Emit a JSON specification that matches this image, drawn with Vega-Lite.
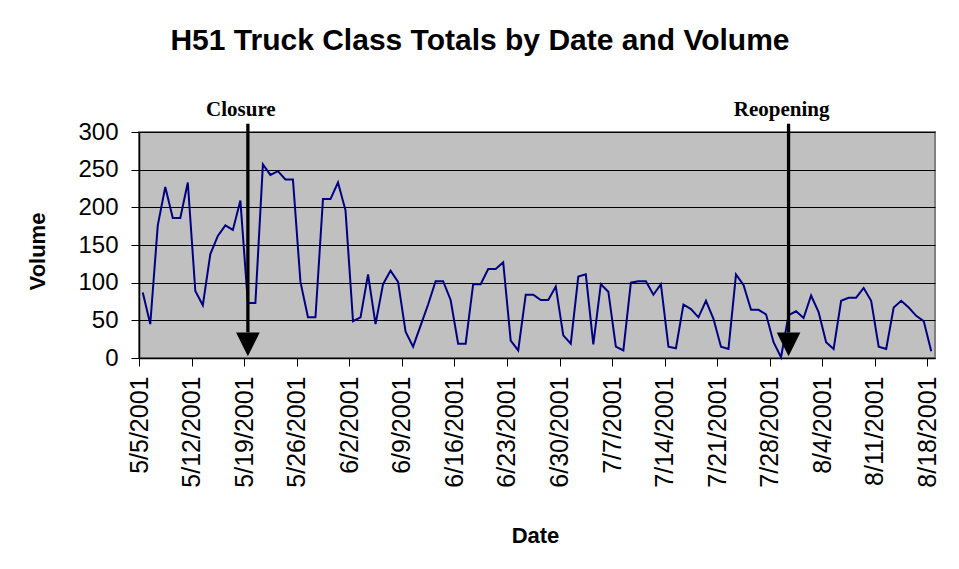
{
  "$schema": "https://vega.github.io/schema/vega-lite/v6.json",
  "width": 796,
  "height": 226,
  "autosize": {"type": "none"},
  "padding": {"left": 139, "top": 132, "right": 24, "bottom": 211},
  "background": "white",
  "title": {
    "text": "H51 Truck Class Totals by Date and Volume",
    "font": "Liberation Sans",
    "fontSize": 30,
    "fontWeight": "bold",
    "color": "#000000",
    "anchor": "middle",
    "dx": -57,
    "baseline": "alphabetic",
    "offset": 19
  },
  "config": {
    "view": {"fill": "#C0C0C0", "stroke": "#808080", "strokeWidth": 2},
    "axisY": {
      "labelFont": "Liberation Sans",
      "labelFontSize": 24,
      "labelColor": "#000000",
      "labelPadding": 13,
      "labelOverlap": false,
      "tickSize": 8,
      "tickColor": "#000000",
      "domainColor": "#000000",
      "domainWidth": 1.5,
      "grid": true,
      "gridColor": "#000000",
      "gridWidth": 1,
      "titleFont": "Liberation Sans",
      "titleFontSize": 22,
      "titleFontWeight": "bold",
      "titleColor": "#000000",
      "titleAngle": 270,
      "titleX": -102,
      "titleY": 119,
      "titleAlign": "center",
      "titleBaseline": "middle"
    }
  },
  "layer": [
    {
      "data": {"values": [
        {"date": "5/5/2001", "volume": 87}, {"date": "5/6/2001", "volume": 45}, {"date": "5/7/2001", "volume": 176}, {"date": "5/8/2001", "volume": 227},
        {"date": "5/9/2001", "volume": 186}, {"date": "5/10/2001", "volume": 186}, {"date": "5/11/2001", "volume": 233}, {"date": "5/12/2001", "volume": 89},
        {"date": "5/13/2001", "volume": 70}, {"date": "5/14/2001", "volume": 138}, {"date": "5/15/2001", "volume": 162}, {"date": "5/16/2001", "volume": 176},
        {"date": "5/17/2001", "volume": 170}, {"date": "5/18/2001", "volume": 209}, {"date": "5/19/2001", "volume": 73}, {"date": "5/20/2001", "volume": 73},
        {"date": "5/21/2001", "volume": 257}, {"date": "5/22/2001", "volume": 243}, {"date": "5/23/2001", "volume": 248}, {"date": "5/24/2001", "volume": 237},
        {"date": "5/25/2001", "volume": 237}, {"date": "5/26/2001", "volume": 101}, {"date": "5/27/2001", "volume": 54}, {"date": "5/28/2001", "volume": 54},
        {"date": "5/29/2001", "volume": 211}, {"date": "5/30/2001", "volume": 211}, {"date": "5/31/2001", "volume": 233}, {"date": "6/1/2001", "volume": 196},
        {"date": "6/2/2001", "volume": 49}, {"date": "6/3/2001", "volume": 54}, {"date": "6/4/2001", "volume": 111}, {"date": "6/5/2001", "volume": 45},
        {"date": "6/6/2001", "volume": 98}, {"date": "6/7/2001", "volume": 116}, {"date": "6/8/2001", "volume": 101}, {"date": "6/9/2001", "volume": 35},
        {"date": "6/10/2001", "volume": 15}, {"date": "6/11/2001", "volume": 43}, {"date": "6/12/2001", "volume": 71}, {"date": "6/13/2001", "volume": 102},
        {"date": "6/14/2001", "volume": 102}, {"date": "6/15/2001", "volume": 77}, {"date": "6/16/2001", "volume": 19}, {"date": "6/17/2001", "volume": 19},
        {"date": "6/18/2001", "volume": 98}, {"date": "6/19/2001", "volume": 98}, {"date": "6/20/2001", "volume": 118}, {"date": "6/21/2001", "volume": 118},
        {"date": "6/22/2001", "volume": 127}, {"date": "6/23/2001", "volume": 23}, {"date": "6/24/2001", "volume": 10}, {"date": "6/25/2001", "volume": 84},
        {"date": "6/26/2001", "volume": 84}, {"date": "6/27/2001", "volume": 77}, {"date": "6/28/2001", "volume": 77}, {"date": "6/29/2001", "volume": 95},
        {"date": "6/30/2001", "volume": 30}, {"date": "7/1/2001", "volume": 19}, {"date": "7/2/2001", "volume": 108}, {"date": "7/3/2001", "volume": 111},
        {"date": "7/4/2001", "volume": 18}, {"date": "7/5/2001", "volume": 98}, {"date": "7/6/2001", "volume": 88}, {"date": "7/7/2001", "volume": 15},
        {"date": "7/8/2001", "volume": 10}, {"date": "7/9/2001", "volume": 100}, {"date": "7/10/2001", "volume": 102}, {"date": "7/11/2001", "volume": 102},
        {"date": "7/12/2001", "volume": 84}, {"date": "7/13/2001", "volume": 98}, {"date": "7/14/2001", "volume": 15}, {"date": "7/15/2001", "volume": 13},
        {"date": "7/16/2001", "volume": 71}, {"date": "7/17/2001", "volume": 65}, {"date": "7/18/2001", "volume": 54}, {"date": "7/19/2001", "volume": 76},
        {"date": "7/20/2001", "volume": 52}, {"date": "7/21/2001", "volume": 15}, {"date": "7/22/2001", "volume": 12}, {"date": "7/23/2001", "volume": 111},
        {"date": "7/24/2001", "volume": 97}, {"date": "7/25/2001", "volume": 64}, {"date": "7/26/2001", "volume": 64}, {"date": "7/27/2001", "volume": 58},
        {"date": "7/28/2001", "volume": 21}, {"date": "7/29/2001", "volume": 1}, {"date": "7/30/2001", "volume": 57}, {"date": "7/31/2001", "volume": 62},
        {"date": "8/1/2001", "volume": 53}, {"date": "8/2/2001", "volume": 83}, {"date": "8/3/2001", "volume": 61}, {"date": "8/4/2001", "volume": 21},
        {"date": "8/5/2001", "volume": 12}, {"date": "8/6/2001", "volume": 76}, {"date": "8/7/2001", "volume": 80}, {"date": "8/8/2001", "volume": 80},
        {"date": "8/9/2001", "volume": 93}, {"date": "8/10/2001", "volume": 76}, {"date": "8/11/2001", "volume": 15}, {"date": "8/12/2001", "volume": 12},
        {"date": "8/13/2001", "volume": 67}, {"date": "8/14/2001", "volume": 76}, {"date": "8/15/2001", "volume": 67}, {"date": "8/16/2001", "volume": 56},
        {"date": "8/17/2001", "volume": 49}, {"date": "8/18/2001", "volume": 9}
      ]},
      "mark": {"type": "line", "color": "#000080", "strokeWidth": 2, "xOffset": 3.75},
      "encoding": {
        "x": {
          "field": "date",
          "type": "temporal",
          "title": "Date",
          "scale": {"domain": [{"year": 2001, "month": 5, "date": 5}, {"year": 2001, "month": 8, "date": 19}]},
          "axis": {
            "values": [
              {"year": 2001, "month": 5, "date": 5}, {"year": 2001, "month": 5, "date": 12}, {"year": 2001, "month": 5, "date": 19}, {"year": 2001, "month": 5, "date": 26},
              {"year": 2001, "month": 6, "date": 2}, {"year": 2001, "month": 6, "date": 9}, {"year": 2001, "month": 6, "date": 16}, {"year": 2001, "month": 6, "date": 23},
              {"year": 2001, "month": 6, "date": 30}, {"year": 2001, "month": 7, "date": 7}, {"year": 2001, "month": 7, "date": 14}, {"year": 2001, "month": 7, "date": 21},
              {"year": 2001, "month": 7, "date": 28}, {"year": 2001, "month": 8, "date": 4}, {"year": 2001, "month": 8, "date": 11}, {"year": 2001, "month": 8, "date": 18}
            ],
            "format": "%-m/%-d/%Y",
            "labelAngle": 270,
            "labelAlign": "right",
            "labelBaseline": "middle",
            "labelFont": "Liberation Sans",
            "labelFontSize": 25,
            "labelColor": "#000000",
            "labelPadding": 10,
            "labelOverlap": false,
            "labelFlush": false,
            "labelBound": false,
            "tickSize": 8,
            "tickColor": "#000000",
            "domainColor": "#000000",
            "domainWidth": 1.5,
            "grid": false,
            "titleFont": "Liberation Sans",
            "titleFontSize": 22,
            "titleFontWeight": "bold",
            "titleColor": "#000000",
            "titleX": 396,
            "titleY": 184,
            "titleAlign": "center",
            "titleBaseline": "alphabetic"
          }
        },
        "y": {
          "field": "volume",
          "type": "quantitative",
          "title": "Volume",
          "scale": {"domain": [0, 300], "nice": false},
          "axis": {"values": [0, 50, 100, 150, 200, 250, 300]}
        }
      }
    },
    {
      "data": {"values": [{"date": "5/19/2001", "event": "Closure"}, {"date": "7/30/2001", "event": "Reopening"}]},
      "mark": {"type": "rule", "color": "#000000", "strokeWidth": 3.3, "xOffset": 3.75},
      "encoding": {
        "x": {"field": "date", "type": "temporal", "title": "Date"},
        "y": {"datum": 311, "title": "Volume", "axis": {"values": [0, 50, 100, 150, 200, 250, 300]}},
        "y2": {"datum": 34}
      }
    },
    {
      "data": {"values": [{"date": "5/19/2001", "event": "Closure"}, {"date": "7/30/2001", "event": "Reopening"}]},
      "mark": {"type": "point", "shape": "M-1,-1L1,-1L0,1Z", "filled": true, "color": "#000000", "opacity": 1, "size": 560, "xOffset": 3.75},
      "encoding": {
        "x": {"field": "date", "type": "temporal", "title": "Date"},
        "y": {"datum": 18, "title": "Volume", "axis": {"values": [0, 50, 100, 150, 200, 250, 300]}}
      }
    },
    {
      "data": {"values": [{"date": "5/19/2001", "event": "Closure"}, {"date": "7/30/2001", "event": "Reopening"}]},
      "mark": {"type": "text", "font": "Liberation Serif", "fontSize": 21, "fontWeight": "bold", "color": "#000000", "baseline": "alphabetic", "align": "center", "dx": -7, "xOffset": 3.75},
      "encoding": {
        "x": {"field": "date", "type": "temporal", "title": "Date"},
        "y": {"datum": 321, "title": "Volume", "axis": {"values": [0, 50, 100, 150, 200, 250, 300]}},
        "text": {"field": "event"}
      }
    }
  ]
}
